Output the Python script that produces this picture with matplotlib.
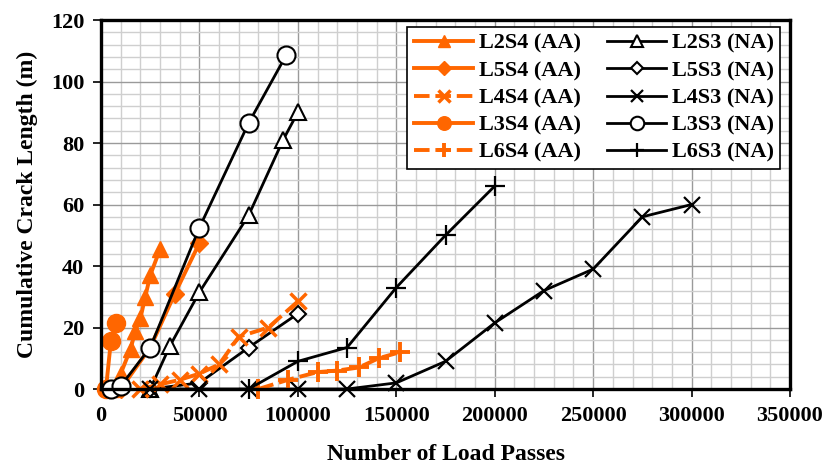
import matplotlib
matplotlib.use("Agg")
import matplotlib.pyplot as plt
from matplotlib.ticker import MultipleLocator, FuncFormatter

# ---- data ----
l2s4_x = [5000, 10000, 15000, 17500, 20000, 22500, 25000, 30000]
l2s4_y = [0, 5, 13, 19, 23, 30, 37, 45.5]
l2s3_x = [25000, 35000, 50000, 75000, 92500, 100000]
l2s3_y = [0, 14, 31.5, 56.5, 81, 90]
l5s4_x = [10000, 25000, 37500, 50000]
l5s4_y = [0, 13.5, 31, 47.5]
l5s3_x = [25000, 50000, 75000, 100000]
l5s3_y = [0, 2, 13.5, 24.5]
l4s4_x = [20000, 30000, 40000, 50000, 60000, 70000, 85000, 100000]
l4s4_y = [0, 1.5, 3, 5, 8, 17, 20, 28.5]
l4s3_x = [25000, 50000, 75000, 100000, 125000, 150000, 175000, 200000, 225000, 250000, 275000, 300000]
l4s3_y = [0, 0, 0, 0, 0, 2, 9, 21.5, 32, 39, 56, 60]
l3s4_x = [2500, 5000, 7500]
l3s4_y = [0, 15.5, 21.5]
l3s3_x = [5000, 10000, 25000, 50000, 75000, 94000]
l3s3_y = [0, 1, 13.5, 52.5, 86.5, 108.5]
l6s4_x = [80000, 95000, 110000, 120000, 131000, 141000, 152000]
l6s4_y = [0, 3, 5.5, 6, 7, 10, 12]
l6s3_x = [75000, 100000, 125000, 150000, 175000, 200000]
l6s3_y = [0, 9, 13.5, 33, 50, 66]

x_ticks = [0, 50000, 100000, 150000, 200000, 250000, 300000, 350000]
y_ticks = [0, 20, 40, 60, 80, 100, 120]

ORANGE = "#FF6600"
BLACK = "#000000"

plt.rcParams['font.family'] = ['Liberation Serif', 'DejaVu Serif']
plt.rcParams['font.weight'] = 'bold'

fig = plt.figure(figsize=(8.30, 4.66), dpi=100)
ax = fig.add_axes([0.1217, 0.1652, 0.8301, 0.7918])

lw_o = 2.8
lw_b = 2.0
h = {}
# Excel series order
h['L2S4 (AA)'], = ax.plot(l2s4_x, l2s4_y, color=ORANGE, lw=lw_o, marker='^', ms=11,
                          mfc=ORANGE, mec=ORANGE, clip_on=False)
h['L2S3 (NA)'], = ax.plot(l2s3_x, l2s3_y, color=BLACK, lw=lw_b, marker='^', ms=12,
                          mfc='white', mec=BLACK, mew=1.5, clip_on=False)
h['L5S4 (AA)'], = ax.plot(l5s4_x, l5s4_y, color=ORANGE, lw=lw_o, marker='D', ms=9,
                          mfc=ORANGE, mec=ORANGE, clip_on=False)
h['L5S3 (NA)'], = ax.plot(l5s3_x, l5s3_y, color=BLACK, lw=lw_b, marker='D', ms=8,
                          mfc='white', mec=BLACK, mew=1.5, clip_on=False)
h['L4S4 (AA)'], = ax.plot(l4s4_x, l4s4_y, color=ORANGE, lw=lw_o, ls=(0, (4, 1.5)),
                          marker='x', ms=11, mew=2.5, mec=ORANGE, clip_on=False)
h['L4S3 (NA)'], = ax.plot(l4s3_x, l4s3_y, color=BLACK, lw=lw_b, marker='x', ms=12,
                          mew=1.6, mec=BLACK, clip_on=False)
h['L3S4 (AA)'], = ax.plot(l3s4_x, l3s4_y, color=ORANGE, lw=lw_o, marker='o', ms=13,
                          mfc=ORANGE, mec=ORANGE, clip_on=False)
h['L3S3 (NA)'], = ax.plot(l3s3_x, l3s3_y, color=BLACK, lw=lw_b, marker='o', ms=13,
                          mfc='white', mec=BLACK, mew=1.5, clip_on=False)
h['L6S4 (AA)'], = ax.plot(l6s4_x, l6s4_y, color=ORANGE, lw=lw_o, ls=(0, (4, 1.5)),
                          marker='+', ms=14, mew=2.8, mec=ORANGE, clip_on=False)
h['L6S3 (NA)'], = ax.plot(l6s3_x, l6s3_y, color=BLACK, lw=lw_b, marker='+', ms=14,
                          mew=1.6, mec=BLACK, clip_on=False)

ax.set_xlim(0, 350000)
ax.set_ylim(0, 120)
ax.set_xticks(x_ticks)
ax.set_yticks(y_ticks)
ax.xaxis.set_minor_locator(MultipleLocator(10000))
ax.yaxis.set_minor_locator(MultipleLocator(4))
ax.xaxis.set_major_formatter(FuncFormatter(lambda v, p: f"{int(v)}"))
ax.grid(which='major', color='#9a9a9a', lw=1.0)
ax.grid(which='minor', color='#cfcfcf', lw=1.0)
ax.set_axisbelow(True)
ax.tick_params(which='major', direction='out', length=6, width=1.2, labelsize=16, pad=6)
ax.tick_params(which='minor', length=0)
for s in ax.spines.values():
    s.set_linewidth(2.4)
    s.set_color('black')
for lab in ax.get_xticklabels() + ax.get_yticklabels():
    lab.set_fontweight('bold')

ax.set_ylabel('Cumulative Crack Length (m)', fontsize=17, fontweight='bold', labelpad=9)
ax.set_xlabel('Number of Load Passes', fontsize=17, fontweight='bold', labelpad=13)

order = ['L2S4 (AA)', 'L5S4 (AA)', 'L4S4 (AA)', 'L3S4 (AA)', 'L6S4 (AA)',
         'L2S3 (NA)', 'L5S3 (NA)', 'L4S3 (NA)', 'L3S3 (NA)', 'L6S3 (NA)']
leg = ax.legend([h[k] for k in order], order, ncol=2, loc='upper right',
                bbox_to_anchor=(0.986, 0.982), frameon=True,
                fancybox=False, edgecolor='black', framealpha=1,
                handlelength=2.65, handletextpad=0.25, columnspacing=1.2,
                labelspacing=0.3, borderpad=0.3, borderaxespad=0.0, markerscale=0.75,
                prop={'family': ['Liberation Serif'], 'weight': 'bold', 'size': 16})
leg.get_frame().set_linewidth(1.2)

fig.savefig('out.png', dpi=100)
